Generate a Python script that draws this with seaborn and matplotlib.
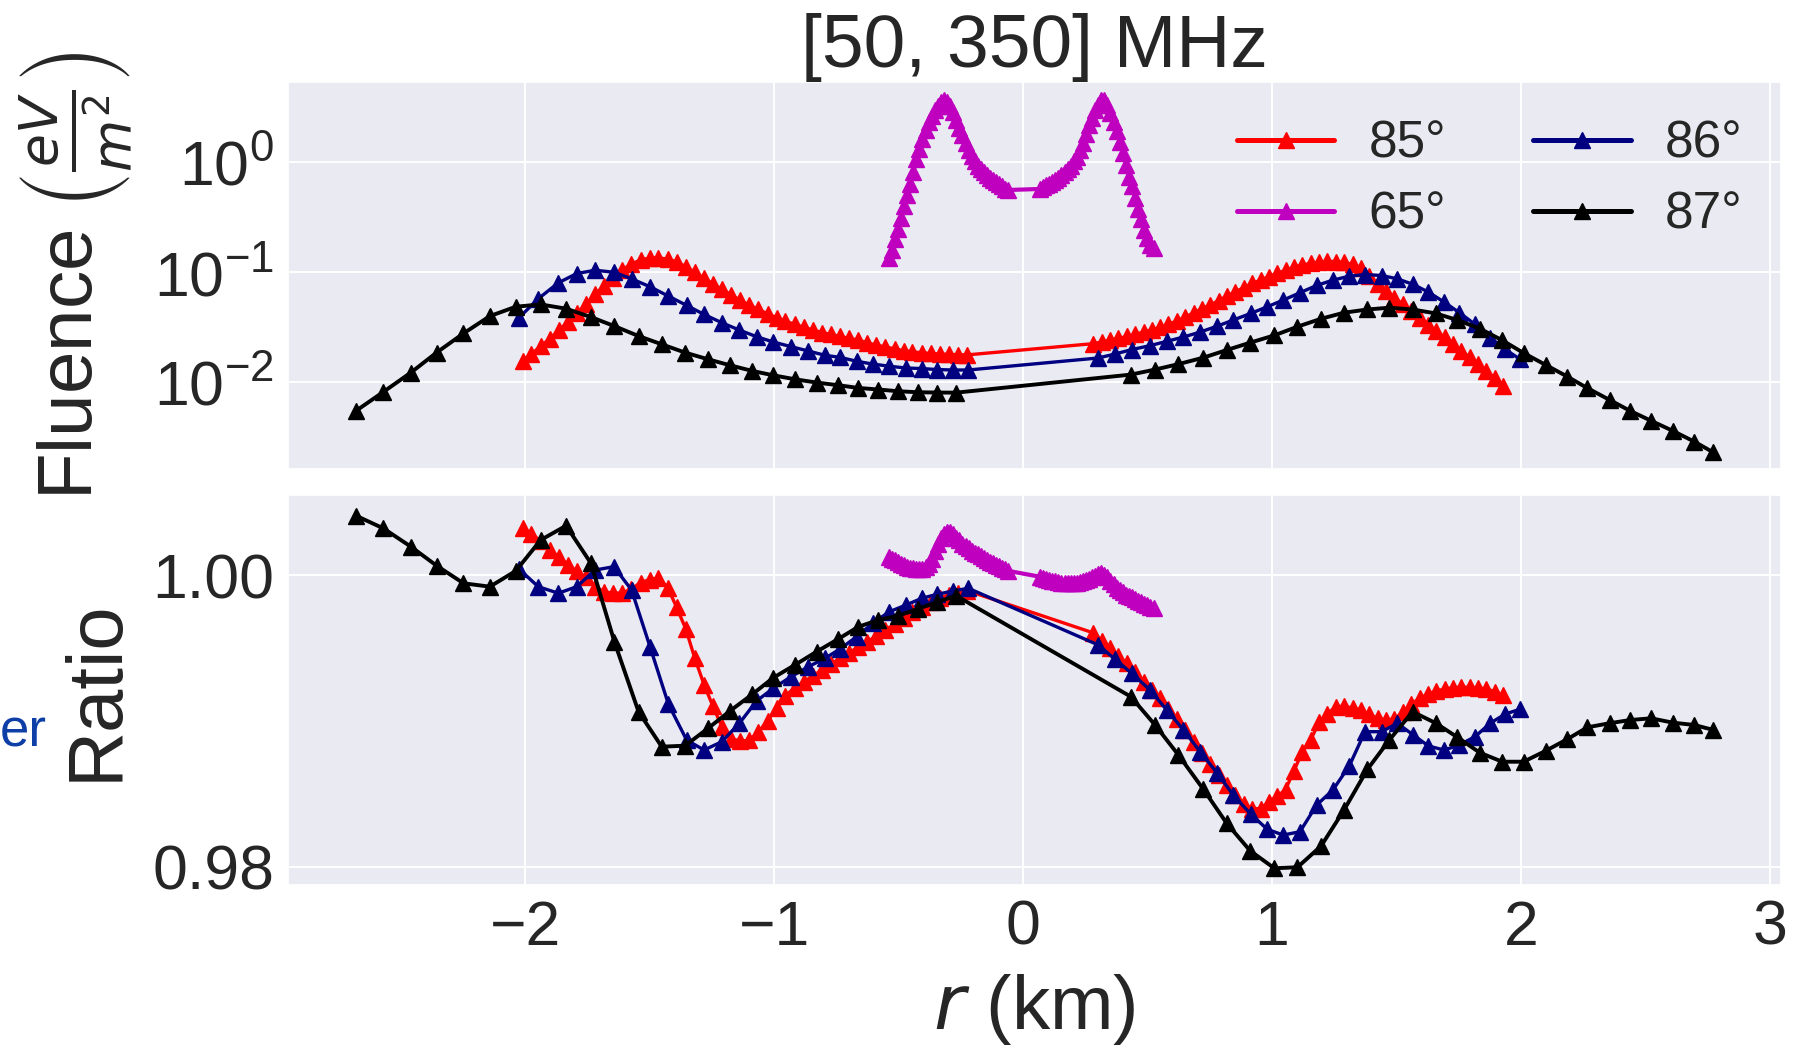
import matplotlib
matplotlib.use("Agg")
import matplotlib.pyplot as plt
import seaborn as sns
from matplotlib.ticker import FixedLocator, NullLocator, FormatStrFormatter

# ---------------- data ----------------
r_85 = [-2.010, -1.974, -1.937, -1.901, -1.864, -1.828, -1.791, -1.755, -1.719, -1.682,
        -1.646, -1.609, -1.573, -1.536, -1.500, -1.464, -1.427, -1.391, -1.354, -1.318,
        -1.281, -1.245, -1.209, -1.172, -1.136, -1.099, -1.063, -1.026, -0.990, -0.954,
        -0.917, -0.881, -0.844, -0.808, -0.771, -0.735, -0.699, -0.662, -0.626, -0.589,
        -0.553, -0.516, -0.480, -0.444, -0.407, -0.371, -0.334, -0.298, -0.261, -0.225,
        0.282, 0.316, 0.349, 0.383, 0.416, 0.450, 0.484, 0.517, 0.551, 0.584,
        0.618, 0.651, 0.685, 0.719, 0.752, 0.786, 0.819, 0.853, 0.887, 0.920,
        0.954, 0.987, 1.021, 1.054, 1.088, 1.122, 1.155, 1.189, 1.222, 1.256,
        1.290, 1.323, 1.357, 1.390, 1.424, 1.458, 1.491, 1.525, 1.558, 1.592,
        1.626, 1.659, 1.693, 1.726, 1.760, 1.793, 1.827, 1.861, 1.894, 1.928]
fluence_85 = [0.01570, 0.01816, 0.02128, 0.02495, 0.02972, 0.03540, 0.04246, 0.05164, 0.06281, 0.07534,
              0.08933, 0.1052, 0.1189, 0.1291, 0.1346, 0.1349, 0.1315, 0.1242, 0.1119, 0.1000,
              0.08810, 0.07834, 0.06982, 0.06237, 0.05572, 0.05035, 0.04592, 0.04198, 0.03873, 0.03597,
              0.03365, 0.03170, 0.02992, 0.02838, 0.02723, 0.02612, 0.02512, 0.02427, 0.02291, 0.02178,
              0.02099, 0.02018, 0.01941, 0.01897, 0.01858, 0.01832, 0.01811, 0.01799, 0.01786, 0.01778,
              0.02249, 0.02333, 0.02415, 0.02506, 0.02612, 0.02729, 0.02864, 0.03006, 0.03162, 0.03373,
              0.03614, 0.03908, 0.04285, 0.04667, 0.05058, 0.05534, 0.06081, 0.06653, 0.07261, 0.07907,
              0.08492, 0.09120, 0.09772, 0.1042, 0.1109, 0.1161, 0.1205, 0.1236, 0.1253, 0.1250,
              0.1227, 0.1175, 0.1084, 0.09333, 0.07852, 0.06761, 0.05888, 0.05129, 0.04467, 0.03873,
              0.03350, 0.02924, 0.02559, 0.02228, 0.01941, 0.01690, 0.01462, 0.01268, 0.01096, 0.00929]
ratio_85 = [1.00327, 1.00282, 1.00235, 1.00175, 1.00124, 1.00072, 1.00028, 0.99985, 0.99920, 0.99888,
            0.99876, 0.99880, 0.99905, 0.99950, 0.99970, 0.99982, 0.99915, 0.99780, 0.99630, 0.99430,
            0.99250, 0.99100, 0.98960, 0.98880, 0.98862, 0.98868, 0.98925, 0.99000, 0.99090, 0.99175,
            0.99228, 0.99268, 0.99310, 0.99350, 0.99390, 0.99431, 0.99470, 0.99505, 0.99542, 0.99585,
            0.99625, 0.99665, 0.99710, 0.99748, 0.99785, 0.99817, 0.99842, 0.99866, 0.99880, 0.99895,
            0.99605, 0.99550, 0.99500, 0.99445, 0.99396, 0.99335, 0.99268, 0.99210, 0.99155, 0.99085,
            0.99015, 0.98937, 0.98858, 0.98778, 0.98703, 0.98630, 0.98560, 0.98490, 0.98430, 0.98398,
            0.98400, 0.98445, 0.98483, 0.98530, 0.98660, 0.98790, 0.98870, 0.98995, 0.99050, 0.99098,
            0.99100, 0.99090, 0.99075, 0.99045, 0.99018, 0.99007, 0.99015, 0.99060, 0.99115, 0.99155,
            0.99185, 0.99205, 0.99220, 0.99228, 0.99232, 0.99232, 0.99228, 0.99220, 0.99202, 0.99179]

r_65 = [-0.539, -0.527, -0.514, -0.502, -0.490, -0.477, -0.465, -0.453, -0.441, -0.428,
        -0.416, -0.404, -0.391, -0.379, -0.367, -0.354, -0.342, -0.330, -0.317, -0.305,
        -0.293, -0.281, -0.268, -0.256, -0.244, -0.231, -0.219, -0.207, -0.194, -0.182,
        -0.170, -0.157, -0.145, -0.133, -0.121, -0.108, -0.096, -0.084, -0.071, -0.059,
        0.068, 0.080, 0.093, 0.105, 0.117, 0.130, 0.142, 0.154, 0.167, 0.179,
        0.191, 0.204, 0.216, 0.228, 0.240, 0.253, 0.265, 0.277, 0.290, 0.302,
        0.314, 0.327, 0.339, 0.351, 0.364, 0.376, 0.388, 0.401, 0.413, 0.425,
        0.437, 0.450, 0.462, 0.474, 0.487, 0.499, 0.511, 0.524]
fluence_65 = [0.135, 0.1585, 0.1986, 0.2477, 0.3105, 0.3963, 0.5000, 0.6310, 0.8054, 1.054,
              1.315, 1.629, 1.963, 2.296, 2.618, 2.965, 3.236, 3.467, 3.631, 3.467,
              3.199, 2.851, 2.399, 2.051, 1.758, 1.486, 1.288, 1.127, 1.012, 0.9183,
              0.8590, 0.8054, 0.7568, 0.7211, 0.6871, 0.6531, 0.6266, 0.5998, 0.5741, 0.5572,
              0.5689, 0.5888, 0.6124, 0.6324, 0.6577, 0.6871, 0.7161, 0.7551, 0.8054, 0.8590,
              0.9204, 1.014, 1.114, 1.288, 1.489, 1.799, 2.173, 2.529, 2.944, 3.304,
              3.631, 3.673, 3.311, 2.805, 2.323, 1.901, 1.531, 1.211, 0.9462, 0.7328,
              0.6012, 0.4677, 0.3767, 0.3034, 0.2399, 0.2042, 0.1770, 0.165]
ratio_65 = [1.00125, 1.00115, 1.00103, 1.00090, 1.00079, 1.00068, 1.00060, 1.00053, 1.00048, 1.00045,
            1.00043, 1.00046, 1.00056, 1.00075, 1.00115, 1.00170, 1.00215, 1.00255, 1.00285, 1.00298,
            1.00295, 1.00280, 1.00258, 1.00240, 1.00215, 1.00198, 1.00184, 1.00170, 1.00156, 1.00143,
            1.00130, 1.00116, 1.00105, 1.00094, 1.00083, 1.00072, 1.00063, 1.00053, 1.00040, 1.00030,
            0.99990, 0.99983, 0.99976, 0.99970, 0.99964, 0.99958, 0.99953, 0.99950, 0.99946, 0.99945,
            0.99945, 0.99946, 0.99948, 0.99952, 0.99958, 0.99966, 0.99976, 0.99987, 0.99998, 1.00008,
            1.00014, 1.00003, 0.99985, 0.99962, 0.99938, 0.99911, 0.99896, 0.99882, 0.99868, 0.99858,
            0.99848, 0.99837, 0.99827, 0.99818, 0.99805, 0.99795, 0.99785, 0.99776]

r_86 = [-2.024, -1.947, -1.866, -1.792, -1.719, -1.643, -1.572, -1.498, -1.424, -1.351,
        -1.281, -1.210, -1.139, -1.070, -1.003, -0.932, -0.862, -0.795, -0.735, -0.668,
        -0.604, -0.537, -0.470, -0.407, -0.344, -0.282, -0.220,
        0.302, 0.369, 0.436, 0.510, 0.577, 0.644, 0.711, 0.780, 0.844, 0.914,
        0.981, 1.045, 1.112, 1.179, 1.244, 1.310, 1.373, 1.440, 1.503, 1.567,
        1.628, 1.691, 1.752, 1.815, 1.876, 1.936, 1.996]
fluence_86 = [0.03864, 0.05741, 0.08017, 0.09727, 0.1042, 0.1000, 0.08710, 0.07379, 0.06067, 0.05000,
              0.04140, 0.03483, 0.02985, 0.02600, 0.02328, 0.02113, 0.01928, 0.01762, 0.01690, 0.01556,
              0.01469, 0.01403, 0.01352, 0.01337, 0.01309, 0.01297, 0.01297,
              0.01667, 0.01811, 0.01986, 0.02158, 0.02360, 0.02582, 0.02864, 0.03243, 0.03681, 0.04227,
              0.04864, 0.05585, 0.06516, 0.07586, 0.08472, 0.09204, 0.09528, 0.09333, 0.08710, 0.07745,
              0.06592, 0.05358, 0.04295, 0.03365, 0.02547, 0.01995, 0.01622]
ratio_86 = [1.00043, 0.99922, 0.99877, 0.99922, 1.00036, 1.00059, 0.99899, 0.99510, 0.99115, 0.98870,
            0.98801, 0.98858, 0.98985, 0.99138, 0.99225, 0.99304, 0.99373, 0.99431, 0.99494, 0.99579,
            0.99671, 0.99750, 0.99796, 0.99842, 0.99870, 0.99892, 0.99911,
            0.99522, 0.99424, 0.99328, 0.99213, 0.99076, 0.98939, 0.98790, 0.98642, 0.98493, 0.98362,
            0.98257, 0.98218, 0.98241, 0.98424, 0.98527, 0.98692, 0.98927, 0.98927, 0.98985, 0.98904,
            0.98829, 0.98801, 0.98836, 0.98893, 0.98985, 0.99048, 0.99081]

r_87 = [-2.679, -2.569, -2.458, -2.355, -2.247, -2.141, -2.037, -1.937, -1.835, -1.735,
        -1.641, -1.544, -1.451, -1.357, -1.265, -1.177, -1.087, -1.003, -0.916, -0.829,
        -0.742, -0.661, -0.581, -0.501, -0.423, -0.347, -0.269,
        0.433, 0.530, 0.624, 0.724, 0.818, 0.912, 1.009, 1.102, 1.197, 1.289,
        1.383, 1.471, 1.564, 1.658, 1.744, 1.834, 1.924, 2.010, 2.098, 2.185,
        2.266, 2.355, 2.438, 2.522, 2.609, 2.696, 2.772]
fluence_87 = [0.00552, 0.00820, 0.01230, 0.01866, 0.02786, 0.04000, 0.04864, 0.05105, 0.04667, 0.03917,
              0.03243, 0.02636, 0.02218, 0.01866, 0.01622, 0.01432, 0.01271, 0.01161, 0.01069, 0.00998,
              0.00944, 0.00891, 0.00863, 0.00832, 0.00815, 0.00810, 0.00808,
              0.01178, 0.01309, 0.01466, 0.01679, 0.01968, 0.02296, 0.02673, 0.03206, 0.03784, 0.04295,
              0.04592, 0.04764, 0.04592, 0.04227, 0.03681, 0.03076, 0.02415, 0.01849, 0.01445, 0.01132,
              0.00889, 0.00695, 0.00552, 0.00449, 0.00364, 0.00290, 0.00232]
ratio_87 = [1.00409, 1.00322, 1.00196, 1.00066, 0.99945, 0.99922, 1.00030, 1.00242, 1.00340, 1.00082,
            0.99544, 0.99064, 0.98824, 0.98831, 0.98950, 0.99069, 0.99184, 0.99297, 0.99385, 0.99476,
            0.99563, 0.99647, 0.99693, 0.99723, 0.99769, 0.99815, 0.99860,
            0.99167, 0.98973, 0.98767, 0.98532, 0.98298, 0.98110, 0.97990, 0.97997, 0.98143, 0.98390,
            0.98669, 0.98870, 0.99064, 0.98985, 0.98889, 0.98783, 0.98721, 0.98721, 0.98795, 0.98875,
            0.98957, 0.98985, 0.99007, 0.99019, 0.98989, 0.98973, 0.98939]

x_ticks = [-2, -1, 0, 1, 2, 3]
fluence_ticks = [1e-2, 1e-1, 1e0]
ratio_ticks = [0.98, 1.00]

# ---------------- style ----------------
sns.set_theme(style="darkgrid")
plt.rcParams["font.family"] = ["Liberation Sans", "DejaVu Sans"]
plt.rcParams["axes.unicode_minus"] = True

fig = plt.figure(figsize=(17.94, 10.48), dpi=100)
ax1 = fig.add_axes([0.1605, 0.5525, 0.8323, 0.3693])
ax2 = fig.add_axes([0.1605, 0.1555, 0.8323, 0.3722], sharex=ax1)

series = [
    ("85°", r_85, fluence_85, ratio_85, "#ff0000", 2.4, 12.0),
    ("65°", r_65, fluence_65, ratio_65, "#bf00bf", 3.0, 12.0),
    ("86°", r_86, fluence_86, ratio_86, "#000080", 2.4, 11.0),
    ("87°", r_87, fluence_87, ratio_87, "#000000", 2.8, 11.5),
]

ax1.set_yscale("log")
for lab, r, f, q, c, lw, ms in series:
    sns.lineplot(x=r, y=f, ax=ax1, color=c, marker="^", markersize=ms, linewidth=lw,
                 markeredgecolor=c, markeredgewidth=1.0, estimator=None, sort=False,
                 label=lab)
    sns.lineplot(x=r, y=q, ax=ax2, color=c, marker="^", markersize=ms, linewidth=lw,
                 markeredgecolor=c, markeredgewidth=1.0, estimator=None, sort=False,
                 legend=False)

# axes ranges / ticks
ax1.set_xlim(-2.952, 3.044)
ax1.set_ylim(10 ** -2.785, 10 ** 0.726)
ax1.yaxis.set_major_locator(FixedLocator(fluence_ticks))
ax1.yaxis.set_minor_locator(NullLocator())
ax1.xaxis.set_major_locator(FixedLocator(x_ticks))
ax1.tick_params(axis="x", labelbottom=False, length=0)
ax1.tick_params(axis="y", labelsize=45, length=0, pad=10)

ax2.set_ylim(0.97875, 1.00551)
ax2.yaxis.set_major_locator(FixedLocator(ratio_ticks))
ax2.yaxis.set_major_formatter(FormatStrFormatter("%.2f"))
ax2.tick_params(axis="y", labelsize=45, length=0, pad=10)
ax2.tick_params(axis="x", labelsize=45, length=0, pad=10)

for ax in (ax1, ax2):
    ax.grid(True, color="white", linewidth=1.4)

ax1.set_title("[50, 350] MHz", fontsize=54, pad=8)
ax1.set_ylabel(r"Fluence $\left(\frac{eV}{m^2}\right)$", fontsize=55, labelpad=14)
ax2.set_ylabel("Ratio", fontsize=56, labelpad=14)
ax2.set_xlabel(r"$r$ (km)", fontsize=55, labelpad=10)

handles, labels = ax1.get_legend_handles_labels()
leg = ax1.legend(handles, labels, ncol=2, loc="upper right", bbox_to_anchor=(0.988, 0.955),
                 borderaxespad=0, frameon=False, fontsize=37, handlelength=1.9,
                 handletextpad=0.66, columnspacing=1.7, labelspacing=0.42, numpoints=1)
for ln in leg.get_lines():
    ln.set_linewidth(3.6)

# stray text at the left edge of the reference
fig.text(0.0, 0.301, "er", color="#0d3fa6", fontsize=38, ha="left", va="center")

fig.savefig("out.png", dpi=100)
